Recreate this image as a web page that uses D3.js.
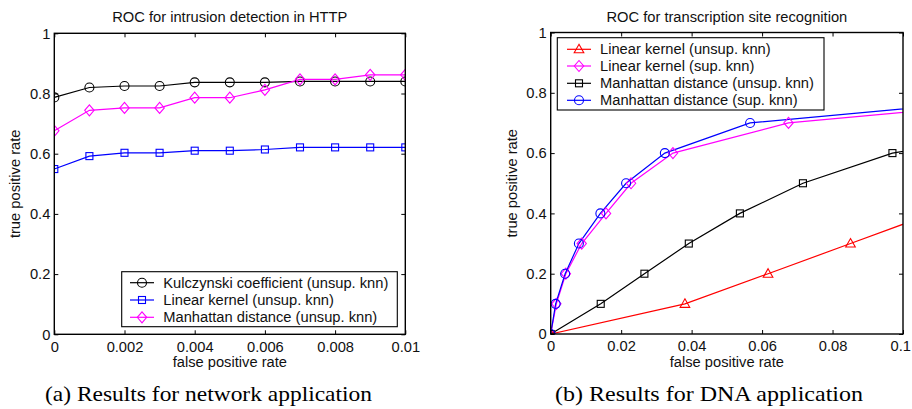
<!DOCTYPE html>
<html><head><meta charset="utf-8">
<script src="https://cdn.jsdelivr.net/npm/d3@7"></script>
<style>body{margin:0;background:#fff} svg{display:block}</style>
</head><body><svg id="c" width="912" height="409"></svg>
<script>
// ---- Panel (a): network application ----
const fprHttp = [0, 0.001, 0.002, 0.003, 0.004, 0.005, 0.006, 0.007, 0.008, 0.009, 0.01];
const tprKulczynski = [0.787, 0.82, 0.825, 0.825, 0.837, 0.837, 0.837, 0.84, 0.84, 0.84, 0.84];
const tprLinearHttp = [0.549, 0.592, 0.603, 0.603, 0.61, 0.61, 0.614, 0.621, 0.621, 0.621, 0.621];
const tprManhattanHttp = [0.676, 0.744, 0.752, 0.752, 0.786, 0.786, 0.812, 0.847, 0.847, 0.862, 0.862];
const xTicksA = [0, 0.002, 0.004, 0.006, 0.008, 0.01];
const xTickLabelsA = ["0", "0.002", "0.004", "0.006", "0.008", "0.01"];
const namesA = ["Kulczynski coefficient (unsup. knn)", "Linear kernel (unsup. knn)", "Manhattan distance (unsup. knn)"];

// ---- Panel (b): DNA application ----
const fprLinUnsup = [0, 0.0381, 0.0617, 0.0851, 0.12];
const tprLinUnsup = [0, 0.1, 0.2, 0.3, 0.45];
const fprLinSup = [0, 0.0016, 0.0043, 0.0088, 0.0157, 0.0228, 0.0347, 0.0675, 0.16];
const tprLinSup = [0, 0.1, 0.2, 0.3, 0.4, 0.5, 0.6, 0.7, 0.8];
const fprManUnsup = [0, 0.0142, 0.0266, 0.0392, 0.0537, 0.0716, 0.097, 0.15];
const tprManUnsup = [0, 0.1, 0.2, 0.3, 0.4, 0.5, 0.6, 0.7];
const fprManSup = [0, 0.0014, 0.0041, 0.008, 0.0141, 0.0214, 0.0324, 0.0566, 0.15];
const tprManSup = [0, 0.1, 0.2, 0.3, 0.4, 0.5, 0.6, 0.7, 0.8];
const xTicksB = [0, 0.02, 0.04, 0.06, 0.08, 0.1];
const xTickLabelsB = ["0", "0.02", "0.04", "0.06", "0.08", "0.1"];
const namesB = ["Linear kernel (unsup. knn)", "Linear kernel (sup. knn)", "Manhattan distance (unsup. knn)", "Manhattan distance (sup. knn)"];

const yTicks = [0, 0.2, 0.4, 0.6, 0.8, 1];
const yTickLabels = ["0", "0.2", "0.4", "0.6", "0.8", "1"];

const SANS = "'Liberation Sans', Arial, Helvetica, sans-serif";
const SERIF = "'Liberation Serif', 'Times New Roman', serif";
const FS = 14.7;
const W = 912;

const svg = d3.select("#c");

function marker(g, type, color, x, y) {
  let m;
  if (type === "circle") {
    m = g.append("circle").attr("cx", x).attr("cy", y).attr("r", 4.5);
  } else if (type === "square") {
    m = g.append("rect").attr("x", x - 3.5).attr("y", y - 3.5).attr("width", 7).attr("height", 7);
  } else if (type === "diamond") {
    m = g.append("path").attr("d", `M${x},${y-5.5}L${x+4.7},${y}L${x},${y+5.5}L${x-4.7},${y}Z`);
  } else {
    m = g.append("path").attr("d", `M${x},${y-5}L${x+4.8},${y+3.5}L${x-4.8},${y+3.5}Z`);
  }
  m.attr("fill", "none").attr("stroke", color).attr("stroke-width", 1.1);
}

function panel(o) {
  const x = d3.scaleLinear().domain(o.xDomain).range([o.left, o.right]);
  const y = d3.scaleLinear().domain([0, 1]).range([o.bottom, o.top]);
  const g = svg.append("g");
  const id = "clip" + o.key;
  svg.append("clipPath").attr("id", id).append("rect")
    .attr("x", o.left).attr("y", o.top).attr("width", o.right - o.left).attr("height", o.bottom - o.top);

  // axes with inward ticks
  const ax = g.append("g").attr("font-family", SANS);
  ax.append("g").attr("transform", `translate(0,${o.bottom})`)
    .call(d3.axisBottom(x).tickValues(o.xTicks).tickSizeInner(-4).tickSizeOuter(0).tickPadding(7)
      .tickFormat((d, i) => o.xTickLabels[i]));
  ax.append("g").attr("transform", `translate(0,${o.top})`)
    .call(d3.axisTop(x).tickValues(o.xTicks).tickSizeInner(-4).tickSizeOuter(0).tickFormat(""));
  ax.append("g").attr("transform", `translate(${o.left},0)`)
    .call(d3.axisLeft(y).tickValues(yTicks).tickSizeInner(-4).tickSizeOuter(0).tickPadding(4)
      .tickFormat((d, i) => yTickLabels[i]));
  ax.append("g").attr("transform", `translate(${o.right},0)`)
    .call(d3.axisRight(y).tickValues(yTicks).tickSizeInner(-4).tickSizeOuter(0).tickFormat(""));
  ax.selectAll(".domain").remove();
  ax.selectAll(".tick line").attr("stroke", "#000").attr("stroke-width", 1);
  ax.selectAll(".tick text").attr("font-size", FS).attr("fill", "#111").attr("font-family", SANS);
  // keep a label at the very edge of the page inside the page
  ax.selectAll(".tick text").each(function () {
    const b = this.getBBox();
    const m = this.parentNode.getCTM();
    const right = m.e + b.x + b.width;
    if (right > W - 1) d3.select(this).attr("dx", (W - 1 - right));
  });

  // series
  const plot = g.append("g").attr("clip-path", `url(#${id})`);
  const line = d3.line().x(d => x(d[0])).y(d => y(d[1]));
  o.series.forEach(s => {
    const pts = s.xs.map((v, i) => [v, s.ys[i]]);
    plot.append("path").attr("d", line(pts)).attr("fill", "none")
      .attr("stroke", s.color).attr("stroke-width", 1.2);
  });
  o.series.forEach(s => {
    s.xs.forEach((v, i) => {
      if (v <= o.xDomain[1]) marker(plot, s.marker, s.color, x(v), y(s.ys[i]));
    });
  });

  // frame
  g.append("rect").attr("x", o.left).attr("y", o.top)
    .attr("width", o.right - o.left).attr("height", o.bottom - o.top)
    .attr("fill", "none").attr("stroke", "#000").attr("stroke-width", 1.4);

  // title and labels
  const cx = (o.left + o.right) / 2;
  g.append("text").attr("x", cx).attr("y", 22).attr("text-anchor", "middle")
    .attr("font-family", SANS).attr("font-size", FS).attr("fill", "#111").text(o.title);
  g.append("text").attr("x", cx).attr("y", 367).attr("text-anchor", "middle")
    .attr("font-family", SANS).attr("font-size", FS).attr("fill", "#111").text("false positive rate");
  g.append("text").attr("transform", `translate(${o.left - 34},${(o.top + o.bottom) / 2}) rotate(-90)`)
    .attr("text-anchor", "middle").attr("font-family", SANS).attr("font-size", FS).attr("fill", "#111")
    .text("true positive rate");

  // legend
  const L = o.legend;
  const lg = g.append("g");
  lg.append("rect").attr("x", L.x0).attr("y", L.y0).attr("width", L.x1 - L.x0).attr("height", L.y1 - L.y0)
    .attr("fill", "#fff").attr("stroke", "#000").attr("stroke-width", 1.1);
  o.series.forEach((s, i) => {
    const yy = L.rows[i];
    lg.append("line").attr("x1", L.lx).attr("x2", L.lx + 24).attr("y1", yy).attr("y2", yy)
      .attr("stroke", s.color).attr("stroke-width", 1.2);
    marker(lg, s.marker, s.color, L.lx + 12, yy);
    lg.append("text").attr("x", L.tx).attr("y", yy + 5).attr("font-family", SANS)
      .attr("font-size", FS).attr("fill", "#111").text(s.name);
  });

  // caption
  svg.append("text").attr("x", o.capX0).attr("y", 401).attr("font-family", SERIF)
    .attr("font-size", 22).attr("fill", "#000")
    .attr("textLength", o.capX1 - o.capX0).attr("lengthAdjust", "spacingAndGlyphs")
    .text(o.caption);
}

panel({
  key: "a", left: 54.3, right: 405.3, top: 33.3, bottom: 334.3,
  xDomain: [0, 0.01], xTicks: xTicksA, xTickLabels: xTickLabelsA,
  title: "ROC for intrusion detection in HTTP",
  caption: "(a) Results for network application", capX0: 45, capX1: 372,
  series: [
    { name: namesA[0], xs: fprHttp, ys: tprKulczynski, color: "#000000", marker: "circle" },
    { name: namesA[1], xs: fprHttp, ys: tprLinearHttp, color: "#0000ff", marker: "square" },
    { name: namesA[2], xs: fprHttp, ys: tprManhattanHttp, color: "#ff00ff", marker: "diamond" }
  ],
  legend: { x0: 121.7, x1: 397.3, y0: 271.7, y1: 326.7, lx: 130, tx: 163.3, rows: [282.7, 300, 317.3] }
});

panel({
  key: "b", left: 550.7, right: 903, top: 32.5, bottom: 334,
  xDomain: [0, 0.1], xTicks: xTicksB, xTickLabels: xTickLabelsB,
  title: "ROC for transcription site recognition",
  caption: "(b) Results for DNA application", capX0: 555, capX1: 863,
  series: [
    { name: namesB[0], xs: fprLinUnsup, ys: tprLinUnsup, color: "#ff0000", marker: "triangle" },
    { name: namesB[1], xs: fprLinSup, ys: tprLinSup, color: "#ff00ff", marker: "diamond" },
    { name: namesB[2], xs: fprManUnsup, ys: tprManUnsup, color: "#000000", marker: "square" },
    { name: namesB[3], xs: fprManSup, ys: tprManSup, color: "#0000ff", marker: "circle" }
  ],
  legend: { x0: 557.3, x1: 824, y0: 37.7, y1: 110, lx: 567, tx: 600, rows: [49.3, 66, 83.3, 100.3] }
});
</script>
</body></html>
